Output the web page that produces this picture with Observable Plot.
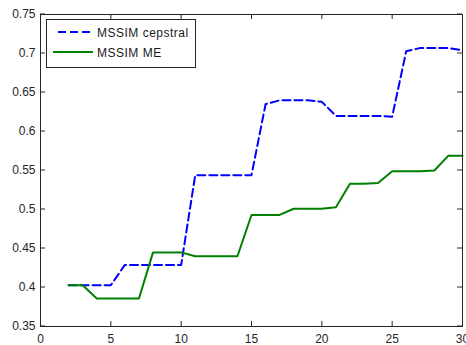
<!DOCTYPE html>
<html>
<head>
<meta charset="utf-8">
<script src="https://cdn.jsdelivr.net/npm/d3@7"></script>
<script src="https://cdn.jsdelivr.net/npm/@observablehq/plot@0.6"></script>
<style>
  html, body { margin: 0; padding: 0; background: #fff; }
  #chart { width: 466px; height: 345px; }
</style>
</head>
<body>
<div id="chart"></div>
<script>
const xValues = [2,3,4,5,6,7,8,9,10,11,12,13,14,15,16,17,18,19,20,21,22,23,24,25,26,27,28,29,30];
const cepstral = [0.403,0.403,0.403,0.403,0.429,0.429,0.429,0.429,0.429,0.544,0.544,0.544,0.544,0.544,0.635,0.640,0.640,0.640,0.638,0.620,0.620,0.620,0.620,0.619,0.703,0.707,0.707,0.707,0.704];
const me = [0.403,0.403,0.386,0.386,0.386,0.386,0.445,0.445,0.445,0.440,0.440,0.440,0.440,0.493,0.493,0.493,0.501,0.501,0.501,0.503,0.533,0.533,0.534,0.549,0.549,0.549,0.550,0.569,0.569];
const xTicks = [0,5,10,15,20,25,30];
const yTicks = [0.35,0.4,0.45,0.5,0.55,0.6,0.65,0.7,0.75];
const seriesNames = ["MSSIM cepstral", "MSSIM ME"];
const seriesColors = ["#0000ff", "#008000"];

const dataC = xValues.map((x, i) => ({x, y: cepstral[i]}));
const dataM = xValues.map((x, i) => ({x, y: me[i]}));

const W = 466, H = 345;
const mt = 14, mb = 19, ml = 40, mr = 4;
const fh = H - mt - mb;
const tickLen = 5;

const fmt = d => String(d);

const plot = Plot.plot({
  width: W, height: H,
  marginTop: mt, marginBottom: mb, marginLeft: ml, marginRight: mr,
  style: {fontFamily: "'Liberation Sans', Arial, sans-serif", fontSize: "12px", background: "#fff", overflow: "visible"},
  x: {domain: [0, 30], label: null},
  y: {domain: [0.35, 0.75], label: null},
  marks: [
    Plot.line(dataC, {x: "x", y: "y", stroke: seriesColors[0], strokeWidth: 2, strokeDasharray: "8,4", strokeLinejoin: "round"}),
    Plot.line(dataM, {x: "x", y: "y", stroke: seriesColors[1], strokeWidth: 2, strokeLinejoin: "round"}),
    Plot.tickX(xTicks, {x: d => d, stroke: "#262626", insetTop: fh - tickLen}),
    Plot.tickX(xTicks, {x: d => d, stroke: "#262626", insetBottom: fh - tickLen}),
    Plot.axisX(xTicks, {tickSize: 0, tickPadding: 8, tickFormat: fmt, fill: "#262626", fontSize: 12, label: null}),
    Plot.axisY(yTicks, {tickSize: 0, tickPadding: 5, tickFormat: fmt, fill: "#262626", fontSize: 12, label: null}),
    Plot.frame({stroke: "#262626", strokeWidth: 1})
  ]
});

document.getElementById("chart").appendChild(plot);

// y ticks inward on left and right, positioned through the y scale
const svg = d3.select(plot);
const ys = plot.scale("y");
const xs = plot.scale("x");
const x0 = xs.apply(0), x1 = xs.apply(30);
const tg = svg.append("g").attr("stroke", "#262626");
yTicks.forEach(v => {
  const y = ys.apply(v);
  tg.append("line").attr("x1", x0).attr("x2", x0 + tickLen).attr("y1", y).attr("y2", y);
  tg.append("line").attr("x1", x1).attr("x2", x1 - tickLen).attr("y1", y).attr("y2", y);
});

// legend
const lg = svg.append("g").attr("font-family", "'Liberation Sans', Arial, sans-serif").attr("font-size", 12).attr("text-anchor", "start");
lg.append("rect").attr("x", 46.5).attr("y", 19.5).attr("width", 149).attr("height", 48)
  .attr("fill", "#fff").attr("stroke", "#262626").attr("stroke-width", 1);
const rows = [
  {y: 32, x1: 58, x2: 94, dash: "8,4"},
  {y: 52, x1: 53, x2: 93, dash: null}
];
rows.forEach((r, i) => {
  const l = lg.append("line").attr("x1", r.x1).attr("x2", r.x2).attr("y1", r.y).attr("y2", r.y)
    .attr("stroke", seriesColors[i]).attr("stroke-width", 2);
  if (r.dash) l.attr("stroke-dasharray", r.dash);
  lg.append("text").attr("x", 97).attr("y", r.y + 4.5).attr("fill", "#1a1a1a").attr("text-anchor", "start")
    .attr("letter-spacing", "0.5px").text(seriesNames[i]);
});
</script>
</body>
</html>
